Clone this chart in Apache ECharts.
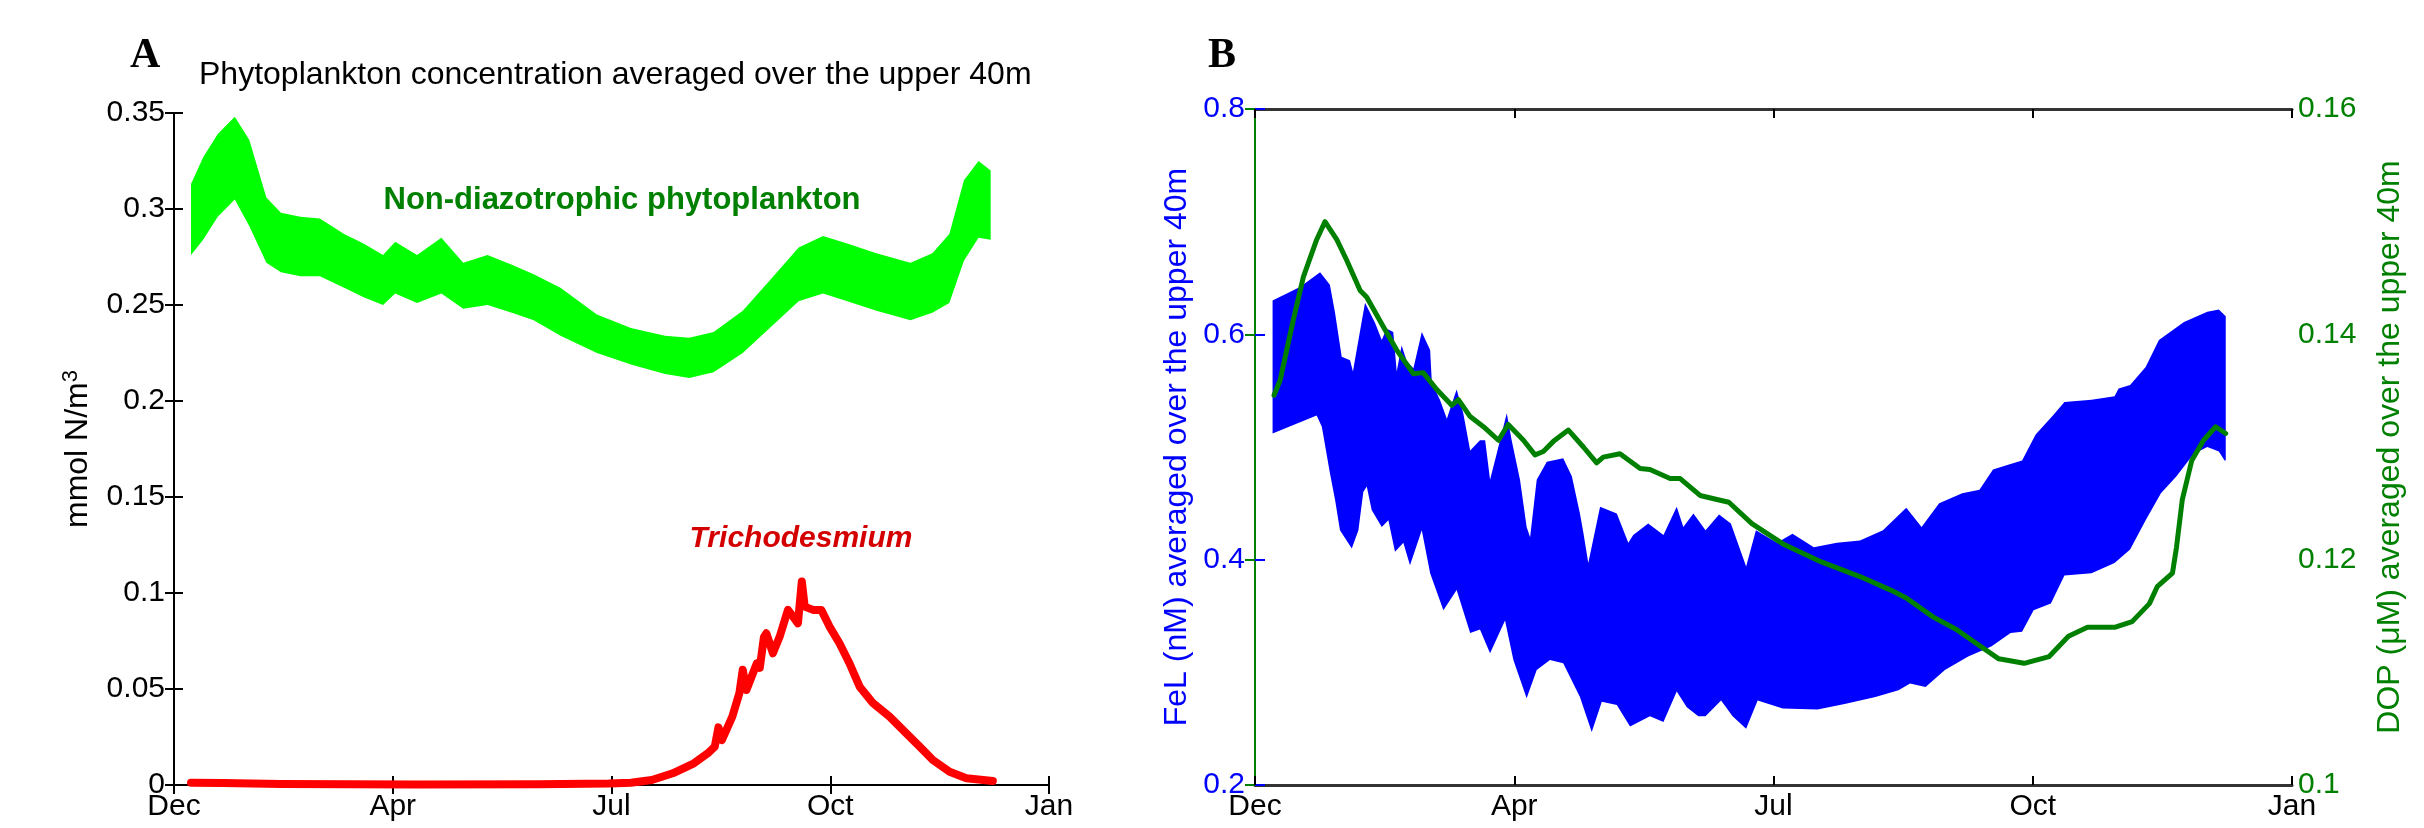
<!DOCTYPE html>
<html>
<head>
    <meta charset="utf-8">
    <title>Phytoplankton, FeL and DOP</title>
    <script src="https://cdn.jsdelivr.net/npm/echarts@6.0.0/dist/echarts.min.js"></script>
    <style>
        body { margin: 0; background: #fff; }
        #main { width: 2424px; height: 828px; }
    </style>
</head>
<body>
<div id="main"></div>
<script type="text/javascript">

    // x axis: days from start, one tick every 90 days
    const monthLabels = ['Dec', 'Apr', 'Jul', 'Oct', 'Jan']

    // panel A - non-diazotrophic phytoplankton (band between daily min and max)
    const phytoDays  = [7, 12, 18, 25, 31, 38, 44, 52, 60, 70, 78, 86, 91, 100, 110, 119, 129, 139, 148, 159, 174, 188, 202, 212, 222, 234, 246, 257, 267, 277, 289, 303, 312, 319, 325, 331, 336]
    const phytoUpper = [0.313, 0.327, 0.339, 0.348, 0.336, 0.306, 0.298, 0.296, 0.295, 0.287, 0.282, 0.276, 0.283, 0.276, 0.285, 0.272, 0.276, 0.271, 0.266, 0.259, 0.245, 0.238, 0.234, 0.233, 0.236, 0.247, 0.264, 0.280, 0.286, 0.282, 0.277, 0.272, 0.277, 0.287, 0.315, 0.325, 0.320]
    const phytoLower = [0.276, 0.284, 0.296, 0.305, 0.291, 0.272, 0.267, 0.265, 0.265, 0.259, 0.254, 0.250, 0.256, 0.251, 0.256, 0.248, 0.250, 0.246, 0.242, 0.234, 0.225, 0.219, 0.214, 0.212, 0.215, 0.225, 0.239, 0.252, 0.256, 0.252, 0.247, 0.242, 0.246, 0.251, 0.273, 0.285, 0.284]

    // panel A - Trichodesmium
    const trichoDays = [7, 20, 44, 100, 150, 179, 188, 196.6, 205.2, 213.9, 219.6, 222.5, 224, 225.4, 229.7, 232.6, 234, 235.5, 239.8, 241, 242.7, 243.7, 246.4, 249.2, 252.6, 254.7, 256.7, 258.3, 259.5, 262.9, 266.3, 269.7, 273.8, 277.9, 282.1, 287.6, 294.4, 301.3, 306.8, 312.2, 319.1, 326, 336.9]
    const trichoVals = [0.0012, 0.001, 0.0005, 0.0003, 0.0004, 0.0008, 0.0012, 0.0026, 0.0061, 0.0113, 0.0165, 0.020, 0.030, 0.0234, 0.0356, 0.0478, 0.060, 0.0495, 0.0634, 0.061, 0.077, 0.079, 0.0686, 0.0773, 0.0912, 0.0877, 0.0842, 0.106, 0.0929, 0.0912, 0.0912, 0.0825, 0.0738, 0.0634, 0.0512, 0.0426, 0.0356, 0.0269, 0.0200, 0.0130, 0.0069, 0.0035, 0.0021]

    // panel B - FeL envelope (nM)
    const felUpperDays = [6.1, 15.6, 22.6, 26, 27.8, 30.1, 33, 34, 35.3, 38.2, 41.7, 44, 45.7, 48, 49.2, 50.9, 52.7, 55, 57.9, 60.8, 61.4, 64.2, 66.6, 70, 72.3, 74.7, 78.1, 79.9, 81.6, 83.9, 87.4, 89.1, 92, 94.3, 95.5, 97.8, 101.3, 107, 110, 112.8, 114, 115.7, 119.8, 125.6, 129.6, 131.3, 136.5, 141.8, 146.4, 148.7, 152.2, 156.4, 161.1, 165.2, 170.5, 173.9, 181.2, 186.6, 194, 202, 210, 218, 226.1, 231.4, 237.5, 245.5, 251.5, 256.2, 262.3, 266.3, 271, 277, 281, 290.4, 298.4, 299.8, 303.8, 309.2, 313.8, 322.5, 330.6, 334.6, 337]
    const felUpper = [0.630, 0.642, 0.655, 0.644, 0.619, 0.580, 0.577, 0.567, 0.586, 0.628, 0.610, 0.595, 0.605, 0.602, 0.567, 0.590, 0.576, 0.570, 0.602, 0.586, 0.557, 0.542, 0.525, 0.551, 0.530, 0.497, 0.506, 0.506, 0.471, 0.494, 0.530, 0.506, 0.471, 0.429, 0.420, 0.471, 0.487, 0.490, 0.474, 0.441, 0.424, 0.397, 0.447, 0.441, 0.415, 0.422, 0.432, 0.422, 0.447, 0.429, 0.441, 0.426, 0.440, 0.432, 0.394, 0.426, 0.415, 0.423, 0.411, 0.415, 0.417, 0.426, 0.446, 0.429, 0.450, 0.459, 0.462, 0.480, 0.485, 0.488, 0.511, 0.528, 0.540, 0.542, 0.545, 0.552, 0.555, 0.571, 0.595, 0.611, 0.620, 0.622, 0.616]
    const felLowerDays = [6.1, 21.4, 23.2, 26, 27.8, 29.5, 33.6, 35.9, 37.6, 38.8, 40.5, 44, 46.3, 48.6, 51.5, 53.8, 57.9, 60.8, 65.4, 70, 74.7, 78.1, 81.6, 86.8, 89.7, 94.3, 97.8, 102.4, 107, 112.8, 116.9, 120.4, 125.6, 130.2, 137.1, 141.8, 146.4, 149.9, 153.9, 156.4, 161.8, 165.8, 170.5, 174.5, 183.2, 195.3, 204.7, 215.4, 223.4, 227.4, 232.8, 239.5, 247.6, 255.6, 262.3, 266.3, 270.3, 276.3, 281, 290.4, 298.4, 303.8, 309.2, 314.5, 319.9, 325.9, 330.6, 334.6, 336.6, 337]
    const felLower = [0.512, 0.528, 0.518, 0.477, 0.453, 0.426, 0.410, 0.426, 0.460, 0.465, 0.444, 0.429, 0.435, 0.407, 0.415, 0.395, 0.426, 0.388, 0.355, 0.373, 0.335, 0.338, 0.317, 0.346, 0.311, 0.277, 0.302, 0.311, 0.308, 0.278, 0.247, 0.274, 0.271, 0.252, 0.261, 0.256, 0.283, 0.269, 0.261, 0.261, 0.275, 0.261, 0.250, 0.275, 0.268, 0.267, 0.272, 0.278, 0.284, 0.290, 0.287, 0.302, 0.314, 0.323, 0.335, 0.336, 0.355, 0.361, 0.386, 0.388, 0.397, 0.409, 0.435, 0.459, 0.474, 0.494, 0.500, 0.496, 0.488, 0.488]

    // panel B - DOP (uM)
    const dopDays = [6.6, 8.7, 13.3, 16.8, 21.4, 24.3, 28.4, 31.8, 36.5, 38.8, 44.5, 49.2, 55, 58.4, 63.1, 68.3, 70.6, 74.7, 79.3, 84.5, 87.9, 93.2, 97.2, 100.1, 103.6, 108.8, 114, 118.6, 120.9, 126.7, 133.7, 137.1, 144.1, 147.6, 154.5, 161.1, 164.5, 172.5, 183.3, 196.6, 210, 220.7, 226.1, 235.5, 243.5, 250.2, 258.2, 267, 275.7, 282.4, 289, 298.4, 304.5, 310.5, 313.2, 318.5, 319.9, 321.9, 325.2, 329.3, 333.5, 337]
    const dopVals = [0.1346, 0.1359, 0.1413, 0.1451, 0.1484, 0.1500, 0.1484, 0.1466, 0.1439, 0.1433, 0.1407, 0.1386, 0.1365, 0.1366, 0.1351, 0.1337, 0.1342, 0.1327, 0.1318, 0.1306, 0.1320, 0.1306, 0.1293, 0.1296, 0.1305, 0.1315, 0.1300, 0.1286, 0.1291, 0.1294, 0.1281, 0.1280, 0.1272, 0.1272, 0.1257, 0.1253, 0.1251, 0.1232, 0.1214, 0.1198, 0.1185, 0.1173, 0.1166, 0.1149, 0.1138, 0.1126, 0.1112, 0.1108, 0.1114, 0.1132, 0.1140, 0.1140, 0.1145, 0.1161, 0.1176, 0.1188, 0.1211, 0.1253, 0.1288, 0.1306, 0.1318, 0.1312]

    const FONT = 'Liberation Sans'
    const DARK_GREEN = '#008000'
    const TICK_SIZE = 30

    function pairs(xs, ys) {
        return xs.map(function (x, i) { return [x, ys[i]] })
    }

    // filled band: upper edge left to right, lower edge back
    function bandRenderer(upDays, up, lowDays, low, color) {
        return function (params, api) {
            var pts = []
            for (var i = 0; i < upDays.length; i++) pts.push(api.coord([upDays[i], up[i]]))
            for (var j = lowDays.length - 1; j >= 0; j--) pts.push(api.coord([lowDays[j], low[j]]))
            return { type: 'polygon', shape: { points: pts }, style: { fill: color } }
        }
    }

    function xBottom(grid, lineColor, lineWidth) {
        return {
            type: 'value', gridIndex: grid, min: 0, max: 360, interval: 90, position: 'bottom',
            axisLine: { lineStyle: { color: lineColor, width: lineWidth } },
            axisTick: { inside: true, length: 9, lineStyle: { color: '#000', width: 2 } },
            axisLabel: {
                margin: 7, color: '#000', fontFamily: FONT, fontSize: TICK_SIZE,
                formatter: function (v) { return monthLabels[Math.round(v / 90)] }
            },
            splitLine: { show: false }
        }
    }
    function xTop(grid, lineColor, lineWidth) {
        return {
            type: 'value', gridIndex: grid, min: 0, max: 360, interval: 90, position: 'top',
            axisLine: { lineStyle: { color: lineColor, width: lineWidth } },
            axisTick: { inside: true, length: 9, lineStyle: { color: '#000', width: 2 } },
            axisLabel: { show: false },
            splitLine: { show: false }
        }
    }

    var myChart = echarts.init(document.getElementById('main'))

    var option = {
        backgroundColor: '#fff',
        animation: false,
        grid: [
            { left: 174, top: 113, width: 875, height: 672 },
            { left: 1255, top: 109, width: 1037, height: 676 }
        ],
        xAxis: [
            xBottom(0, '#000', 2),
            xTop(0, '#000', 2),
            xBottom(1, '#333', 3),
            xTop(1, '#333', 3)
        ],
        yAxis: [
            {
                type: 'value', gridIndex: 0, min: 0, max: 0.35, interval: 0.05,
                name: 'mmol N/m{sup|3}', nameLocation: 'middle', nameGap: 78, nameRotate: 90,
                nameTextStyle: {
                    fontFamily: FONT, fontSize: 32, color: '#000',
                    rich: { sup: { fontFamily: FONT, fontSize: 22, color: '#000', padding: [0, 0, 14, 0] } }
                },
                axisLine: { show: true, lineStyle: { color: '#000', width: 2 } },
                axisTick: { show: true, inside: true, length: 9, lineStyle: { color: '#000', width: 2 } },
                axisLabel: { margin: 9, color: '#000', fontFamily: FONT, fontSize: TICK_SIZE },
                splitLine: { show: false }
            },
            {
                type: 'value', gridIndex: 0, min: 0, max: 0.35, interval: 0.05, position: 'right',
                axisLine: { show: true, lineStyle: { color: '#000', width: 2 } },
                axisTick: { show: true, inside: true, length: 9, lineStyle: { color: '#000', width: 2 } },
                axisLabel: { show: false },
                splitLine: { show: false }
            },
            {
                type: 'value', gridIndex: 1, min: 0.2, max: 0.8, interval: 0.2,
                name: 'FeL (nM) averaged over the upper 40m', nameLocation: 'middle', nameGap: 62, nameRotate: 90,
                nameTextStyle: { fontFamily: FONT, fontSize: 32, color: '#0000ff' },
                axisLine: { show: true, lineStyle: { color: '#0000ff', width: 2 } },
                axisTick: { show: true, inside: true, length: 10, lineStyle: { color: '#0000ff', width: 2 } },
                axisLabel: { margin: 10, color: '#0000ff', fontFamily: FONT, fontSize: TICK_SIZE },
                splitLine: { show: false }
            },
            {
                type: 'value', gridIndex: 1, min: 0.1, max: 0.16, interval: 0.02, position: 'right',
                name: 'DOP (μM) averaged over the upper 40m', nameLocation: 'middle', nameGap: 82, nameRotate: 90,
                nameTextStyle: { fontFamily: FONT, fontSize: 32, color: DARK_GREEN },
                axisLine: { show: true, lineStyle: { color: DARK_GREEN, width: 2 } },
                axisTick: { show: true, inside: true, length: 10, lineStyle: { color: DARK_GREEN, width: 2 } },
                axisLabel: { margin: 6, color: DARK_GREEN, fontFamily: FONT, fontSize: TICK_SIZE },
                splitLine: { show: false }
            }
        ],
        graphic: [
            { type: 'text', x: 130, y: 56, style: { text: 'A', font: 'bold 42px "Liberation Serif"', fill: '#000', textAlign: 'left', textVerticalAlign: 'middle' } },
            { type: 'text', x: 199, y: 75, style: { text: 'Phytoplankton concentration averaged over the upper 40m', font: '32px "Liberation Sans"', fill: '#000', textAlign: 'left', textVerticalAlign: 'middle' } },
            { type: 'text', x: 622, y: 200, style: { text: 'Non-diazotrophic phytoplankton', font: 'bold 31px "Liberation Sans"', fill: DARK_GREEN, textAlign: 'center', textVerticalAlign: 'middle' } },
            { type: 'text', x: 801, y: 539, style: { text: 'Trichodesmium', font: 'italic bold 30px "Liberation Sans"', fill: '#d40000', textAlign: 'center', textVerticalAlign: 'middle' } },
            { type: 'text', x: 1208, y: 56, style: { text: 'B', font: 'bold 42px "Liberation Serif"', fill: '#000', textAlign: 'left', textVerticalAlign: 'middle' } }
        ],
        series: [
            {
                name: 'Non-diazotrophic phytoplankton', type: 'custom', coordinateSystem: 'cartesian2d',
                xAxisIndex: 0, yAxisIndex: 0, data: [[180, 0.25]], silent: true,
                renderItem: bandRenderer(phytoDays, phytoUpper, phytoDays, phytoLower, '#00ff00')
            },
            {
                name: 'Trichodesmium', type: 'line', xAxisIndex: 0, yAxisIndex: 0,
                data: pairs(trichoDays, trichoVals), showSymbol: false, silent: true,
                lineStyle: { color: '#ff0000', width: 8, join: 'round', cap: 'round' }
            },
            {
                name: 'FeL', type: 'custom', coordinateSystem: 'cartesian2d',
                xAxisIndex: 2, yAxisIndex: 2, data: [[180, 0.4]], silent: true,
                renderItem: bandRenderer(felUpperDays, felUpper, felLowerDays, felLower, '#0000ff')
            },
            {
                name: 'DOP', type: 'line', xAxisIndex: 2, yAxisIndex: 3,
                data: pairs(dopDays, dopVals), showSymbol: false, silent: true,
                lineStyle: { color: DARK_GREEN, width: 5, join: 'round', cap: 'round' }
            }
        ]
    }

    myChart.setOption(option)

</script>
</body>
</html>
